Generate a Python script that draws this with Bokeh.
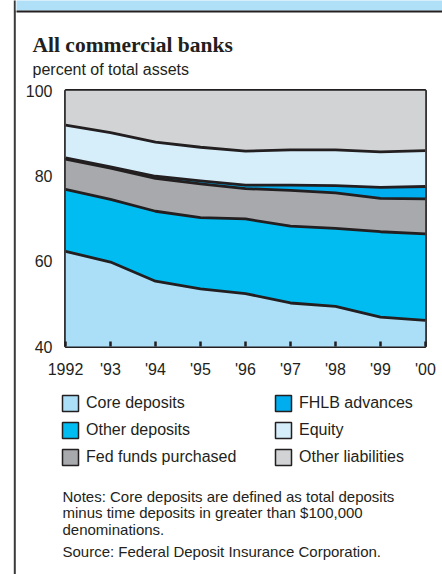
import numpy as np
from bokeh.plotting import figure
from bokeh.layouts import column, row
from bokeh.models import (ColumnDataSource, Label, Legend, LegendItem, BoxAnnotation,
                          FixedTicker, Range1d)
from bokeh.embed import file_html
from bokeh.resources import INLINE

# ---------------- data ----------------
years = [1992, 1993, 1994, 1995, 1996, 1997, 1998, 1999, 2000]
year_labels = ["1992", "'93", "'94", "'95", "'96", "'97", "'98", "'99", "'00"]
core_deposits = [62.3, 59.8, 55.3, 53.5, 52.4, 50.2, 49.4, 46.9, 46.1]
other_deposits = [14.5, 14.7, 16.4, 16.7, 17.5, 18.0, 18.3, 20.0, 20.3]
fed_funds = [7.1, 7.3, 7.7, 7.9, 7.1, 8.4, 8.3, 7.8, 8.2]
fhlb_advances = [0.3, 0.3, 0.5, 0.7, 0.8, 1.2, 1.7, 2.6, 2.9]
equity = [7.7, 8.0, 8.0, 7.9, 8.0, 8.3, 8.4, 8.3, 8.4]
other_liabilities = [8.1, 9.9, 12.1, 13.3, 14.2, 13.9, 13.9, 14.4, 14.1]
y_ticks = [40, 60, 80, 100]

series_names = ["Core deposits", "Other deposits", "Fed funds purchased",
                "FHLB advances", "Equity", "Other liabilities"]
series_keys = ["core", "other_dep", "fed", "fhlb", "equity", "other_liab"]
series_colors = ["#abdff8", "#00bcf1", "#a7a9ac", "#00aeef", "#d6eefa", "#d1d3d4"]

title_text = "All commercial banks"
subtitle_text = "percent of total assets"
notes_lines = ["Notes: Core deposits are defined as total deposits",
               "minus time deposits in greater than $100,000",
               "denominations."]
source_text = "Source: Federal Deposit Insurance Corporation."

DARK = "#231f20"
RULE = "#3a3a3a"
BAND = "#b0e0f8"
SANS = "Liberation Sans"

W = 442
H = 574
STRIP = 16
WR = W - STRIP
H_TOP = 82
H_MID = 302
H_BOT = H - H_TOP - H_MID
TXT_SHIFT_TOP = 6.5     # labels render slightly below the requested baseline
TXT_SHIFT_BOT = 4.5


def blank(w, h):
    f = figure(width=w, height=h, output_backend="svg", toolbar_location=None,
               x_axis_location=None, y_axis_location=None,
               x_range=Range1d(0, w), y_range=Range1d(0, h), min_border=0)
    f.grid.visible = False
    f.outline_line_color = None
    f.background_fill_color = "white"
    f.border_fill_color = "white"
    return f


def box(f, l, r, b, t, color):
    f.add_layout(BoxAnnotation(left=l, right=r, bottom=b, top=t,
                               left_units="screen", right_units="screen",
                               bottom_units="screen", top_units="screen",
                               fill_color=color, fill_alpha=1, line_color=None,
                               line_alpha=0))


def lab(f, text, x, y, size, font=SANS, style="normal"):
    f.add_layout(Label(x=x, y=y, x_units="screen", y_units="screen", text=text,
                       text_font=font, text_font_size=size, text_font_style=style,
                       text_color=DARK, text_baseline="alphabetic", text_align="left"))


# ---------------- full-height left strip: page rule ----------------
strip = blank(STRIP, H)
box(strip, 13.3, 15.3, -10, H + 10, RULE)
box(strip, 15.3, STRIP + 5, H - 10, H + 10, BAND)
box(strip, 15.3, STRIP + 5, H - 12, H - 10, DARK)

# ---------------- top: band, title, subtitle ----------------
top = blank(WR, H_TOP)
box(top, -5, WR + 10, H_TOP - 10, H_TOP + 10, BAND)
box(top, -5, WR + 10, H_TOP - 12, H_TOP - 10, DARK)
lab(top, title_text, 32 - STRIP, H_TOP - 51.3 + TXT_SHIFT_TOP, "21.5px",
    font="Liberation Serif", style="bold")
lab(top, subtitle_text, 32 - STRIP, H_TOP - 75 + TXT_SHIFT_TOP, "16px")

# ---------------- chart ----------------
src = ColumnDataSource(dict(year=years, core=core_deposits, other_dep=other_deposits,
                            fed=fed_funds, fhlb=fhlb_advances, equity=equity,
                            other_liab=other_liabilities))

p = figure(width=WR, height=H_MID, output_backend="svg", toolbar_location=None,
           x_range=Range1d(1992, 2000), y_range=Range1d(40, 100),
           min_border_left=65 - STRIP, min_border_right=17, min_border_top=90 - H_TOP,
           min_border_bottom=H_TOP + H_MID - 346)
p.grid.visible = False
p.background_fill_color = None
p.border_fill_color = "white"
p.outline_line_color = DARK
p.outline_line_width = 2.8

p.varea_stack(stackers=series_keys, x="year", color=series_colors, source=src)
p.vline_stack(stackers=series_keys[:-1], x="year", line_color=DARK, line_width=2.8,
              line_join="round", source=src)

xa = p.xaxis[0]
xa.ticker = FixedTicker(ticks=years)
xa.major_label_overrides = {y: l for y, l in zip(years, year_labels)}
xa.axis_line_color = None
xa.major_tick_in = 5
xa.major_tick_out = 0
xa.major_tick_line_color = DARK
xa.major_tick_line_width = 2.5
xa.minor_tick_line_color = None
xa.major_label_standoff = 14
xa.major_label_text_font = SANS
xa.major_label_text_font_size = "16px"
xa.major_label_text_color = DARK

ya = p.yaxis[0]
ya.ticker = FixedTicker(ticks=y_ticks)
ya.axis_line_color = None
ya.major_tick_line_color = None
ya.minor_tick_line_color = None
ya.major_label_standoff = 7
ya.major_label_text_font = SANS
ya.major_label_text_font_size = "16px"
ya.major_label_text_color = DARK

# ---------------- bottom: legend and notes ----------------
bot = blank(WR, H_BOT)
y0 = H_TOP + H_MID   # page y of the top of this panel

# legend swatches: one off-canvas quad each, only used for the legend glyph
swatches = [bot.quad(left=[-60], right=[-50], top=[-50], bottom=[-60], fill_color=c,
                     line_color=DARK, line_width=1.5) for c in series_colors]


def make_legend(idx, loc):
    return Legend(items=[LegendItem(label=series_names[i], renderers=[swatches[i]]) for i in idx],
                  location=loc, orientation="vertical", glyph_width=20, glyph_height=20,
                  label_height=20, spacing=7, label_standoff=6, padding=0, margin=0,
                  border_line_color=None, background_fill_alpha=0,
                  label_text_font=SANS, label_text_font_size="16px",
                  label_text_color=DARK)


leg_top = 393 - y0
leg_h = 3 * 20 + 2 * 7
bot.add_layout(make_legend([0, 1, 2], (60 - STRIP, H_BOT - leg_top - leg_h)))
bot.add_layout(make_legend([3, 4, 5], (273 - STRIP, H_BOT - leg_top - leg_h)))

for i, line in enumerate(notes_lines):
    lab(bot, line, 62 - STRIP, H_BOT - (500 - y0) - 16.6 * i + TXT_SHIFT_BOT, "15px")
lab(bot, source_text, 62 - STRIP, H_BOT - (555 - y0) + TXT_SHIFT_BOT, "15px")

# the chart sits in its own row so that its frame is not aligned with the text panels
layout = row(strip, column(top, row(p), bot))
open("out.html", "w").write(file_html(layout, INLINE))
